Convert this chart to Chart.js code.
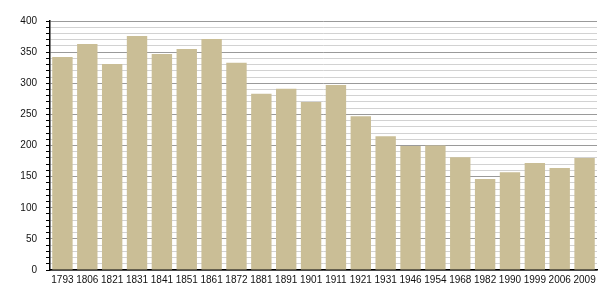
<!DOCTYPE html>
<html>
<head>
<meta charset="utf-8">
<script src="https://cdn.jsdelivr.net/npm/chart.js@4/dist/chart.umd.min.js"></script>
<style>
html,body{margin:0;padding:0;background:#fff;}
#wrap{width:605px;height:300px;position:relative;}
</style>
</head>
<body>
<div id="wrap"><canvas id="c" width="605" height="300"></canvas></div>
<script>
const years = ["1793","1806","1821","1831","1841","1851","1861","1872","1881","1891","1901","1911","1921","1931","1946","1954","1968","1982","1990","1999","2006","2009"];
const population = [342,363,331,376,347,355,371,333,283,291,270,297,247,215,199,200,181,146,157,172,164,180];
const yTickLabels = [0,50,100,150,200,250,300,350,400];

new Chart(document.getElementById('c'), {
  type: 'bar',
  data: {
    labels: years,
    datasets: [{
      data: population,
      backgroundColor: '#cabe96',
      borderWidth: 0,
      barPercentage: 0.82,
      categoryPercentage: 1.0
    }]
  },
  options: {
    responsive: false,
    animation: false,
    layout: { padding: { top: 21, right: 8, left: 0, bottom: 0 } },
    plugins: { legend: { display: false }, tooltip: { enabled: false } },
    scales: {
      x: {
        grid: { display: false, drawTicks: false },
        border: { color: '#000', width: 1.5 },
        ticks: { color: '#111', font: { family: 'Liberation Sans, Arial, sans-serif', size: 10 }, padding: 4, maxRotation: 0, autoSkip: false },
        afterFit: s => { s.height = 30; }
      },
      y: {
        min: 0, max: 400,
        grid: {
          color: ctx => (ctx.tick && ctx.tick.value % 50 === 0) ? '#9a9a9a' : '#d2d2d2',
          tickColor: '#000',
          tickLength: 4,
          lineWidth: 1
        },
        border: { color: '#000', width: 1.5 },
        ticks: {
          stepSize: 10,
          autoSkip: false,
          color: '#111',
          font: { family: 'Liberation Sans, Arial, sans-serif', size: 10 },
          padding: 9,
          callback: v => yTickLabels.includes(v) ? String(v) : ''
        },
        afterFit: s => { s.width = 50; }
      }
    }
  }
});
</script>
</body>
</html>
